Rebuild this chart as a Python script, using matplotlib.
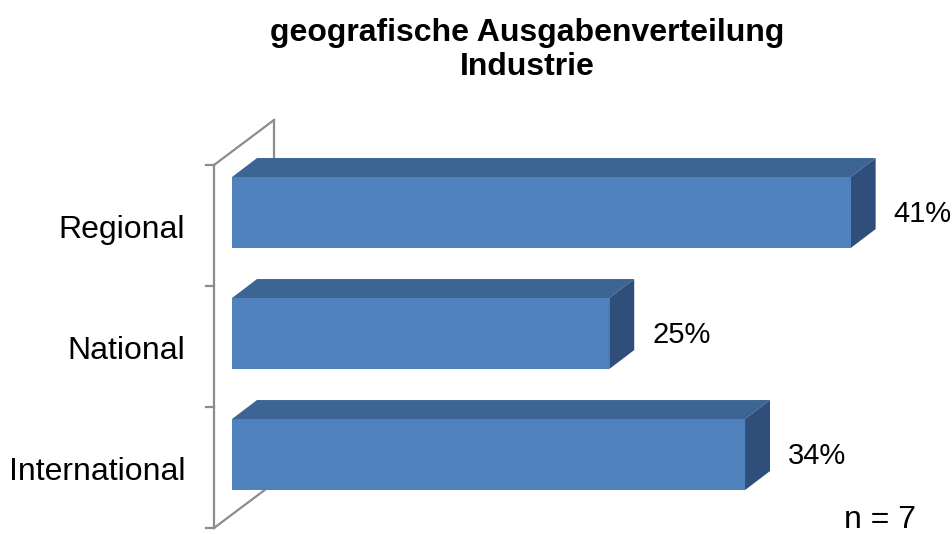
import matplotlib.pyplot as plt
from matplotlib.patches import Polygon

categories = ["International", "National", "Regional"]
values = [34, 25, 41]
value_labels = ["34%", "25%", "41%"]
title = "geografische Ausgabenverteilung\nIndustrie"
note = "n = 7"

front = "#4F81BD"
top_col = "#3D6594"
side_col = "#2F4F7A"
wall_col = "#8C8C8C"

plt.rcParams['font.family'] = ['Liberation Sans', 'DejaVu Sans']

fig = plt.figure(figsize=(9.52, 5.34), dpi=100)
W, H = 952, 534
ax = fig.add_axes([214 / W, 1 - 528 / H, (911 - 214) / W, 363 / H])
ax.set_xlim(-1.193, 45)
ax.set_ylim(-0.607, 2.393)
ax.axis('off')

bh = 0.587
dx = 25 / 15.09
dy = 19 / 121.0

# back wall (3D frame), back edges hidden behind bars
x0, y0, y1 = -1.193, -0.607, 2.393
wdx, wdy = 60 / 15.09, 45 / 121.0
lw = 1.6
ax.plot([x0, x0], [y0, y1], color=wall_col, lw=lw, clip_on=False, zorder=1)
ax.plot([x0, x0 + wdx], [y1, y1 + wdy], color=wall_col, lw=lw, clip_on=False, zorder=1)
ax.plot([x0 + wdx, x0 + wdx], [y1, y1 + wdy], color=wall_col, lw=lw, clip_on=False, zorder=1)
ax.plot([x0, x0 + wdx], [y0, y0 + wdy], color=wall_col, lw=lw, clip_on=False, zorder=1)
for t in [y0, y0 + 1, y0 + 2, y1]:
    ax.plot([x0 - 8 / 15.09, x0], [t, t], color=wall_col, lw=lw, clip_on=False, zorder=1)

for i, (v, lab) in enumerate(zip(values, value_labels)):
    ax.barh(i, v, height=bh, left=0, color=front, zorder=3)
    yt = i + bh / 2
    yb = i - bh / 2
    ax.add_patch(Polygon([(0, yt), (v, yt), (v + dx, yt + dy), (dx, yt + dy)],
                         closed=True, facecolor=top_col, edgecolor='none', zorder=2, clip_on=False))
    ax.add_patch(Polygon([(v, yb), (v + dx, yb + dy), (v + dx, yt + dy), (v, yt)],
                         closed=True, facecolor=side_col, edgecolor='none', zorder=2, clip_on=False))
    ax.annotate(lab, (v + dx, i), xytext=(18, -1), textcoords='offset pixels',
                ha='left', va='center', fontsize=21, annotation_clip=False)
    ax.annotate(categories[i], (x0, i), xytext=(-29, -17), textcoords='offset pixels',
                ha='right', va='center', fontsize=23, annotation_clip=False)

fig.text(527 / W, 1 - 50 / H, title, ha='center', va='center', fontsize=23,
         fontweight='bold', linespacing=1.15)
fig.text(880 / W, 1 - 520 / H, note, ha='center', va='center', fontsize=23)

fig.savefig('out.png', dpi=100)
